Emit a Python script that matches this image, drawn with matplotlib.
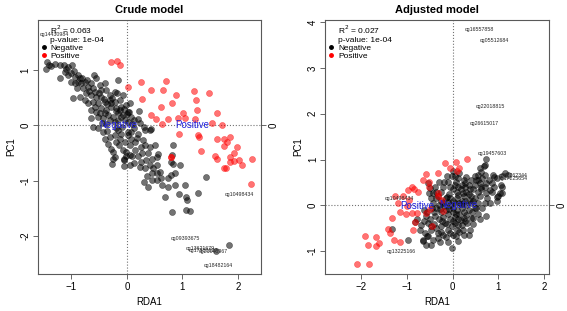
import matplotlib
matplotlib.use("Agg")
import matplotlib.pyplot as plt
from matplotlib.lines import Line2D

plt.rcParams['font.family'] = ['Liberation Sans', 'DejaVu Sans']

# Crude model: points (RDA1, PC1)
crude_neg = [
    (-1.44, 1.15), (-1.41, 1.09), (-1.45, 1.03), (-1.36, 1.07), (-1.29, 1.11), (-1.21, 1.10),
    (-1.14, 1.09), (-1.06, 1.06), (-0.99, 1.09), (-1.20, 0.85), (-1.12, 0.97), (-1.06, 0.91),
    (-1.00, 0.94), (-0.94, 0.88), (-0.88, 0.91), (-0.85, 0.85), (-1.00, 0.79), (-0.94, 0.76),
    (-0.88, 0.79), (-0.82, 0.76), (-0.76, 0.79), (-0.59, 0.91), (-0.55, 0.85), (-0.97, 0.49),
    (-0.90, 0.67), (-0.79, 0.67), (-0.70, 0.70), (-0.64, 0.76), (-0.61, 0.67), (-0.49, 0.73),
    (-0.40, 0.76), (-0.46, 0.64), (-0.37, 0.64), (-0.73, 0.58), (-0.64, 0.55), (-0.85, 0.52),
    (-0.76, 0.46), (-0.55, 0.52), (-0.46, 0.52), (-0.31, 0.55), (-0.21, 0.61), (-0.16, 0.82),
    (-0.17, 0.58), (-0.07, 0.55), (-0.70, 0.40), (-0.61, 0.43), (-0.52, 0.40), (-0.40, 0.43),
    (-0.31, 0.46), (-0.22, 0.43), (-0.13, 0.46), (-0.64, 0.28), (-0.55, 0.25), (-0.46, 0.31),
    (-0.37, 0.28), (-0.28, 0.34), (-0.19, 0.31), (-0.10, 0.34), (-0.01, 0.37), (0.05, 0.40),
    (-0.52, 0.16), (-0.43, 0.13), (-0.34, 0.19), (-0.25, 0.16), (-0.16, 0.22), (-0.07, 0.19),
    (0.02, 0.25), (-0.64, 0.13), (-0.16, 0.10), (-0.04, 0.10), (0.08, 0.16), (-0.22, 0.07),
    (-1.10, 1.02), (-0.95, 0.98), (-0.80, 0.86), (-0.72, 0.82), (-0.68, 0.62), (-0.58, 0.60),
    (-0.50, 0.58), (-0.42, 0.48), (-0.35, 0.38), (-0.28, 0.40), (-0.20, 0.26), (-0.12, 0.28),
    (-0.58, 0.34), (-0.48, 0.22), (-0.40, 0.22), (-0.30, 0.10), (-0.10, 0.15), (0.00, 0.20),
    (-0.05, 0.30), (-0.26, 0.50), (-0.45, 0.05), (-0.38, 0.02),
    (0.04, 0.25), (0.22, 0.26), (0.13, 0.10), (0.20, 0.11), (0.23, 0.05), (0.02, 0.07),
    (0.43, -0.07), (0.10, 0.02), (0.30, -0.02),
    (-0.61, -0.03), (-0.43, -0.12), (-0.40, -0.24), (-0.34, -0.33), (-0.28, -0.42), (-0.25, -0.48),
    (-0.22, -0.57), (-0.27, -0.69), (-0.31, -0.21), (-0.22, -0.18), (-0.13, -0.24), (-0.04, -0.30),
    (-0.07, -0.45), (-0.01, -0.48), (0.05, -0.54), (-0.05, -0.61), (-0.16, -0.09), (-0.10, -0.15),
    (0.02, -0.18), (0.08, -0.12), (0.05, -0.36), (0.02, -0.12), (0.08, -0.24), (0.14, -0.30),
    (0.20, -0.15), (0.29, -0.27), (0.32, -0.09), (0.41, -0.09), (0.32, -0.36), (0.41, -0.39),
    (0.50, -0.36), (0.56, -0.51), (0.54, -0.57), (0.45, -0.60), (0.35, -0.63), (0.26, -0.66),
    (0.23, -0.75), (0.32, -0.78), (0.41, -0.72), (0.47, -0.78), (0.54, -0.72), (0.45, -0.87),
    (0.54, -0.87), (0.59, -0.84), (0.62, -0.96), (0.45, -0.99), (0.54, -0.99), (0.74, -0.96),
    (0.80, -0.90), (0.86, -0.87), (0.80, -0.66), (0.83, -0.69), (0.95, -0.71), (0.83, -0.36),
    (0.82, -0.53), (0.74, -1.11), (0.86, -1.08), (1.05, -1.07), (1.42, -0.93), (0.68, -1.29),
    (0.94, -1.24), (1.06, -1.29), (1.08, -1.35), (1.28, -1.23), (1.06, -1.53), (1.14, -1.55),
    (0.82, -1.57), (1.84, -2.17), (1.60, -2.27), (-0.25, -0.60), (-0.06, -0.62), (-0.02, -0.56),
    (-0.05, -0.74), (-0.20, -0.05), (-0.08, -0.02), (0.12, -0.05), (0.18, -0.22), (0.25, -0.40),
    (0.15, -0.45), (0.10, -0.55), (0.20, -0.55), (-0.15, -0.35), (-0.20, -0.30), (0.38, -0.50),
    (0.28, -0.50), (0.12, -0.68), (0.05, -0.72), (0.36, -0.92), (0.30, -1.02), (0.38, -1.12),
    (0.64, -1.07), (-0.52, -0.05), (-0.35, -0.10),
]
crude_pos = [
    (-0.28, 1.15), (-0.17, 1.16), (-0.13, 1.10), (0.02, 0.69), (0.26, 0.78), (0.28, 0.47),
    (0.43, 0.64), (0.70, 0.80), (0.65, 0.65), (0.62, 0.34), (0.44, 0.19), (0.52, 0.11),
    (0.64, 0.03), (0.74, 0.11), (0.82, 0.40), (0.88, 0.55), (1.01, 0.22), (1.05, 0.14),
    (0.92, 0.13), (1.21, 0.62), (1.24, 0.46), (1.26, 0.28), (1.48, 0.58), (1.23, 0.11),
    (0.93, -0.15), (1.28, -0.18), (1.30, -0.21), (1.62, 0.22), (1.54, 0.05), (1.71, 0.01),
    (1.62, -0.25), (1.74, -0.25), (1.86, -0.21), (1.80, -0.30), (1.74, -0.38), (1.98, -0.39),
    (1.33, -0.46), (0.80, -0.57), (1.59, -0.56), (1.92, -0.50), (1.86, -0.57), (2.25, -0.61),
    (1.63, -0.61), (1.86, -0.66), (1.93, -0.65), (2.01, -0.63), (2.07, -0.71), (1.74, -0.78),
    (1.79, -0.78), (2.24, -1.06), (0.79, -0.57),
]
crude_labels = ["cg14430984", "cg10498434", "cg09393675", "cg13621679", "cg17350627",
                "cg21048967", "cg18482164"]
crude_label_pos = [(-1.30, 1.65), (2.02, -1.25), (1.06, -2.04), (1.32, -2.22), (1.37, -2.27),
                   (1.55, -2.29), (1.65, -2.53)]

# Adjusted model
adj_neg = [
    (0.74, 1.01), (0.70, 0.89), (0.59, 0.82), (0.56, 0.67), (0.70, 0.67), (0.89, 0.67),
    (0.96, 0.60), (1.07, 0.63), (1.14, 0.71), (1.21, 0.67), (1.07, 0.41), (1.07, 0.28),
    (0.99, 0.20), (0.96, 0.09), (0.70, 0.05), (0.74, -0.24), (0.81, 0.34), (0.85, 0.49),
    (0.74, 0.49), (0.63, 0.41), (0.56, 0.56), (0.41, 0.56), (0.27, 0.49), (0.12, 0.60),
    (-0.02, 0.63), (-0.13, 0.63), (-0.10, 0.52), (-0.20, 0.41), (-0.53, 0.49), (-0.49, 0.38),
    (-0.42, 0.27), (-0.31, 0.20), (-0.46, 0.15), (-0.57, -0.24), (-0.53, -0.38), (-0.60, -0.60),
    (-0.53, -0.68), (-0.42, -0.75), (-0.31, -0.71), (-0.28, -0.80), (-0.20, -0.64), (-0.02, -0.93),
    (-0.06, -0.60), (0.09, -0.53), (0.23, -0.53), (0.38, -0.53), (0.12, -0.42), (0.27, -0.35),
    (0.45, -0.28), (0.56, -0.20), (0.52, -0.06), (-0.35, -0.49), (-0.46, -0.53), (-0.17, -0.38),
    (-0.39, -0.24), (-1.33, -0.51), (-0.97, -0.76), (-0.82, -0.37), (-0.68, -0.44), (-0.65, -0.76),
    (-0.55, -0.68), (-0.57, -0.86), (-0.52, 0.28), (-0.55, -0.14), (-0.64, -0.79), (-0.46, -0.86),
    (0.13, -0.78), (1.03, 0.27), (1.05, 0.45), (0.98, 0.18), (0.68, 0.86),
    (-0.30, -0.30), (-0.25, -0.15), (-0.20, -0.25), (-0.15, -0.10), (-0.10, -0.20), (-0.05, -0.30),
    (0.00, -0.15), (0.05, -0.25), (0.10, -0.10), (0.15, -0.20), (0.20, -0.05), (0.25, -0.15),
    (0.30, 0.00), (0.35, -0.10), (0.40, 0.05), (0.45, 0.10), (0.50, 0.15), (0.40, 0.20),
    (0.35, 0.25), (0.30, 0.30), (0.25, 0.20), (0.20, 0.10), (0.15, 0.05), (0.10, 0.15),
    (0.05, 0.05), (0.00, 0.10), (-0.05, 0.00), (-0.10, 0.08), (-0.15, 0.15), (-0.20, 0.05),
    (-0.25, 0.10), (-0.30, 0.00), (-0.35, -0.05), (-0.40, -0.15), (-0.12, -0.40), (-0.02, -0.45),
    (0.05, -0.38), (0.18, -0.32), (0.30, -0.22), (0.10, 0.30), (0.00, 0.35), (-0.08, 0.25),
    (0.18, 0.35), (0.28, 0.40), (0.45, 0.35), (0.55, 0.30), (0.60, 0.20), (0.55, 0.05),
    (0.62, 0.35), (0.50, 0.45), (0.35, 0.45), (0.20, 0.45), (0.05, 0.45), (-0.05, 0.40),
    (-0.25, 0.30), (-0.35, 0.15), (-0.45, -0.05), (-0.50, -0.30), (-0.40, -0.40), (-0.25, -0.45),
    (-0.10, -0.55), (0.00, -0.65), (-0.15, -0.70), (0.20, -0.42), (0.32, -0.38), (0.42, -0.15),
    (0.65, -0.05), (0.75, 0.15), (0.85, 0.30), (0.90, 0.40), (0.80, 0.55), (0.65, 0.60),
    (0.48, 0.65), (0.30, 0.62), (0.15, 0.70), (0.02, 0.75), (-0.30, 0.50), (-0.38, 0.40),
    (-0.10, -0.80), (0.08, -0.68), (0.25, -0.65), (-0.70, -0.55), (-0.78, -0.30), (-0.62, -0.35),
    (-0.48, -0.45), (0.12, 0.22), (0.22, 0.28), (-0.18, -0.02), (0.02, -0.05), (0.35, 0.12),
    (0.12, -0.30), (-0.32, -0.60), (0.45, -0.40), (0.60, -0.30), (0.70, 0.40),
    (-0.22, -0.35), (-0.08, -0.08), (0.08, -0.18), (0.18, 0.02), (0.28, 0.10), (0.38, 0.35),
    (-0.12, 0.18), (-0.28, -0.08), (0.00, -0.35), (0.15, -0.58), (0.25, 0.55), (0.08, 0.52),
    (-0.18, 0.52), (-0.35, 0.30), (-0.42, 0.05), (0.48, -0.05), (0.60, 0.48), (0.72, 0.28),
    (0.40, -0.28), (0.25, -0.28), (-0.05, 0.15), (0.12, 0.40), (-0.25, -0.58), (0.05, 0.65),
    (0.35, -0.65), (0.52, 0.55), (0.82, 0.05), (0.90, 0.62), (0.62, 0.72), (-0.62, -0.10),
]
adj_pos = [
    (-2.09, -1.29), (-1.82, -1.29), (-1.91, -0.68), (-1.84, -0.87), (-1.67, -0.70), (-1.61, -0.82),
    (-1.66, -0.89), (-1.40, -0.51), (-1.37, -0.60), (-1.27, -0.76), (-1.15, -0.80), (-1.31, -0.27),
    (-1.26, 0.20), (-1.18, 0.05), (-1.15, -0.14), (-1.08, 0.20), (-0.98, 0.33), (-1.02, -0.20),
    (-0.89, 0.40), (-0.84, 0.36), (-0.76, 0.29), (-0.95, 0.12), (-0.88, -0.17), (-0.78, -0.17),
    (-0.82, -0.37), (-0.86, -0.53), (-0.64, 0.55), (-0.57, 0.69), (-0.51, 0.52), (-0.31, 0.71),
    (-0.17, 0.93), (-0.06, 0.82), (0.07, 0.94), (0.14, 0.82), (0.32, 1.01), (0.10, 0.76),
    (-0.57, -0.17), (-0.49, -0.08), (-0.52, 0.41), (-0.31, 0.20), (-0.24, 0.12), (-0.20, -0.13),
    (-0.31, 0.27), (-0.44, -0.46), (-1.00, -0.02),
]
adj_labels = ["cg16557858", "cg05512684", "cg22018815", "cg26615017", "cg19457603",
              "cg17762344", "cg17225654", "cg10498434", "cg13225166"]
adj_label_pos = [(0.58, 3.85), (0.92, 3.60), (0.83, 2.16), (0.70, 1.78), (0.86, 1.13),
                 (1.32, 0.65), (1.32, 0.58), (-1.15, 0.14), (-1.11, -1.00)]

panels = [
    dict(title="Crude model", neg=crude_neg, pos=crude_pos, labels=crude_labels,
         label_pos=crude_label_pos, r2="0.063", xlim=(-1.60, 2.41), ylim=(-2.69, 1.91),
         xticks=[-1, 0, 1, 2], yticks=[-2, -1, 0, 1], negpos=(-0.16, 0.0), pospos=(1.18, 0.0),
         rect=[0.067, 0.119, 0.393, 0.817]),
    dict(title="Adjusted model", neg=adj_neg, pos=adj_pos, labels=adj_labels,
         label_pos=adj_label_pos, r2="0.027", xlim=(-2.77, 2.10), ylim=(-1.50, 4.05),
         xticks=[-2, -1, 0, 1, 2], yticks=[-1, 0, 1, 2, 3, 4], negpos=(0.12, 0.0),
         pospos=(-0.76, -0.02), rect=[0.574, 0.119, 0.394, 0.817]),
]

fig = plt.figure(figsize=(5.67, 3.11), dpi=100)

for p in panels:
    ax = fig.add_axes(p["rect"])
    ax.set_xlim(p["xlim"])
    ax.set_ylim(p["ylim"])
    ax.axhline(0, color='0.45', linestyle=':', linewidth=0.8, zorder=1)
    ax.axvline(0, color='0.45', linestyle=':', linewidth=0.8, zorder=1)

    nx = [v[0] for v in p["neg"]]
    ny = [v[1] for v in p["neg"]]
    px = [v[0] for v in p["pos"]]
    py = [v[1] for v in p["pos"]]
    ax.scatter(nx, ny, s=19, color='black', alpha=0.55, edgecolors='black', linewidths=0.4, zorder=2)
    ax.scatter(px, py, s=19, color='red', alpha=0.55, edgecolors='red', linewidths=0.4, zorder=3)

    for lab, (lx, ly) in zip(p["labels"], p["label_pos"]):
        ax.text(lx, ly, lab, fontsize=3.8, color='0.15', ha='center', va='center', zorder=4)

    ax.text(p["negpos"][0], p["negpos"][1], "Negative", color='#2222dd', fontsize=7,
            ha='center', va='center', zorder=5)
    ax.text(p["pospos"][0], p["pospos"][1], "Positive", color='#2222dd', fontsize=7,
            ha='center', va='center', zorder=5)

    handles = [Line2D([], [], linestyle='none'), Line2D([], [], linestyle='none'),
               Line2D([], [], marker='o', color='black', linestyle='none', markersize=2.5),
               Line2D([], [], marker='o', color='red', linestyle='none', markersize=2.5)]
    texts = ["R$^2$ = " + p["r2"], "p-value: 1e-04", "Negative", "Positive"]
    ax.legend(handles, texts, loc='upper left', frameon=False, fontsize=6,
              handlelength=0.6, handletextpad=0.5, labelspacing=0.05,
              borderaxespad=0.1, borderpad=0.3)

    ax.set_xticks(p["xticks"])
    ax.set_yticks(p["yticks"])
    ax.set_yticklabels([str(t) for t in p["yticks"]], rotation=90, va='center')
    ax.tick_params(direction='out', length=3.5, width=0.6, labelsize=7, color='0.3', pad=2)
    for s in ax.spines.values():
        s.set_color('0.35')
        s.set_linewidth(0.8)
    ax.set_title(p["title"], fontsize=8, fontweight='bold', pad=5)
    ax.set_xlabel("RDA1", fontsize=7, labelpad=4)
    ax.set_ylabel("PC1", fontsize=7, labelpad=3)

    # secondary axis at the right with a single tick at zero
    ax2 = ax.twinx()
    ax2.set_ylim(p["ylim"])
    ax2.set_yticks([0])
    ax2.set_yticklabels(["0"], rotation=90, va='center')
    ax2.tick_params(direction='out', length=3.5, width=0.6, labelsize=7, color='0.3', pad=2)
    for s in ax2.spines.values():
        s.set_visible(False)

fig.savefig("out.png", dpi=100)
